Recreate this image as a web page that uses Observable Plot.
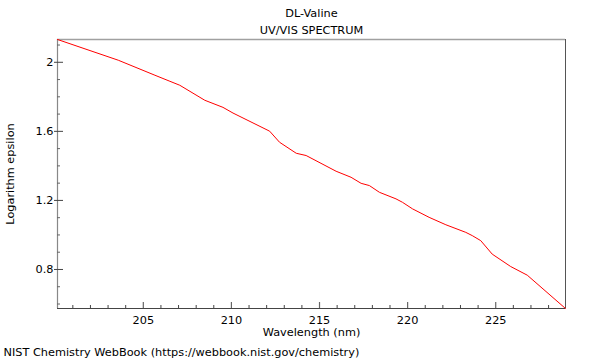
<!DOCTYPE html>
<html>
<head>
<meta charset="utf-8">
<script src="https://cdn.jsdelivr.net/npm/d3@7"></script>
<script src="https://cdn.jsdelivr.net/npm/@observablehq/plot@0.6"></script>
<style>
  html, body { margin: 0; padding: 0; background: #fff; }
  #chart svg { display: block; }
</style>
</head>
<body>
<div id="chart"></div>
<script>
const title = "DL-Valine";
const subtitle = "UV/VIS SPECTRUM";
const xLabel = "Wavelength (nm)";
const yLabel = "Logarithm epsilon";
const caption = "NIST Chemistry WebBook (https://webbook.nist.gov/chemistry)";

const wavelength = [200.13, 203.58, 205.66, 206.51, 207.07, 208.49, 209.52, 210.09, 212.17, 212.73,
  213.68, 214.24, 215.94, 216.79, 217.36, 217.83, 218.40, 219.34, 219.71, 220.28,
  221.22, 222.17, 223.30, 223.67, 224.15, 224.80, 225.85, 226.79, 228.96];
const logEpsilon = [2.132, 2.012, 1.925, 1.890, 1.867, 1.780, 1.739, 1.706, 1.601, 1.537,
  1.473, 1.460, 1.369, 1.334, 1.299, 1.286, 1.247, 1.209, 1.189, 1.151,
  1.102, 1.059, 1.015, 0.996, 0.967, 0.889, 0.817, 0.767, 0.574];

const xMajorTicks = [205, 210, 215, 220, 225];
const xMinorTicks = [201, 202, 203, 204, 206, 207, 208, 209, 211, 212, 213, 214, 216, 217, 218, 219, 221, 222, 223, 224, 226, 227, 228];
const yMajorTicks = [0.8, 1.2, 1.6, 2.0];
const yMinorTicks = [0.6, 0.7, 0.9, 1.0, 1.1, 1.3, 1.4, 1.5, 1.7, 1.8, 1.9, 2.1];
const xDomain = [200.13, 228.96];
const yDomain = [0.574, 2.132];

const data = wavelength.map((w, i) => ({w, v: logEpsilon[i]}));

const W = 600, H = 360;
const mL = 57, mR = 35, mT = 39, mB = 52;
const plotW = W - mL - mR, plotH = H - mT - mB;
const FS = 11.3;

const chart = Plot.plot({
  width: W,
  height: H,
  marginLeft: mL,
  marginRight: mR,
  marginTop: mT,
  marginBottom: mB,
  style: {fontFamily: "'DejaVu Sans', sans-serif", fontSize: FS + "px", color: "#000", background: "#fff"},
  x: {domain: xDomain},
  y: {domain: yDomain},
  marks: [
    // frame edges
    Plot.ruleY([yDomain[1]], {stroke: "#a0a0a0", strokeWidth: 1.5}),
    Plot.ruleX([xDomain[0]], {stroke: "#888", strokeWidth: 1.2}),
    Plot.ruleX([xDomain[1]], {stroke: "#555", strokeWidth: 1}),
    Plot.ruleY([yDomain[0]], {stroke: "#444", strokeWidth: 1}),
    // ticks
    Plot.tickX(xMajorTicks, {x: d => d, insetTop: plotH - 6, stroke: "#666", strokeWidth: 1.2}),
    Plot.tickX(xMinorTicks, {x: d => d, insetTop: plotH - 3, stroke: "#444"}),
    Plot.tickY(yMajorTicks, {y: d => d, insetLeft: -3, insetRight: plotW - 6, stroke: "#444"}),
    Plot.tickY(yMinorTicks, {y: d => d, insetRight: plotW - 3, stroke: "#666"}),
    Plot.axisX({ticks: xMajorTicks, tickSize: 0, tickPadding: 7, label: null, fontSize: FS}),
    Plot.axisY({ticks: yMajorTicks, tickSize: 0, tickPadding: 4, label: null, tickFormat: d => String(d), fontSize: FS}),
    // spectrum
    Plot.line(data, {x: "w", y: "v", stroke: "#ff0000", strokeWidth: 1}),
    // texts
    Plot.text([title], {text: d => d, frameAnchor: "top", lineAnchor: "middle", dy: -26, fontSize: FS, fill: "#000"}),
    Plot.text([subtitle], {text: d => d, frameAnchor: "top", lineAnchor: "middle", dy: -9, fontSize: FS, fill: "#000"}),
    Plot.text([xLabel], {text: d => d, frameAnchor: "bottom", lineAnchor: "middle", dy: 24, fontSize: FS, fill: "#000"}),
    Plot.text([yLabel], {text: d => d, frameAnchor: "left", textAnchor: "middle", lineAnchor: "middle", dx: -47, rotate: -90, fontSize: FS, fill: "#000"}),
    Plot.text([caption], {text: d => d, frameAnchor: "bottom-left", lineAnchor: "middle", dx: -54, dy: 44, textAnchor: "start", fontSize: FS, fill: "#000"})
  ]
});
document.getElementById("chart").appendChild(chart);
</script>
</body>
</html>
